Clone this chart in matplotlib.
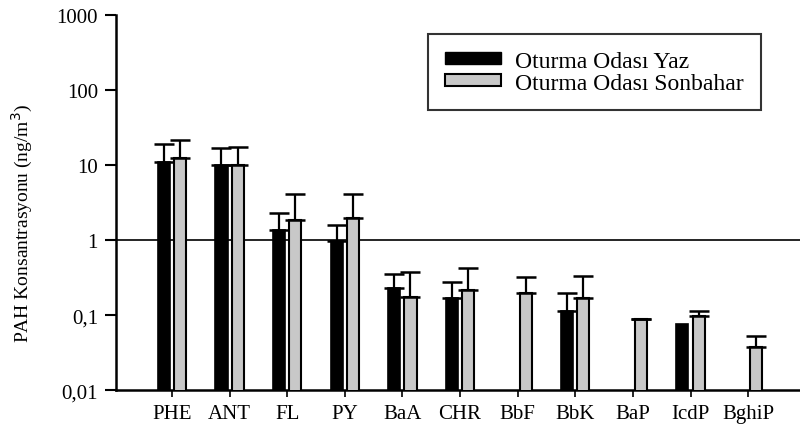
import numpy as np
import matplotlib
matplotlib.use("Agg")
import matplotlib.pyplot as plt
from matplotlib.patches import Patch

categories = ["PHE", "ANT", "FL", "PY", "BaA", "CHR", "BbF", "BbK", "BaP", "IcdP", "BghiP"]
yaz = [11.0, 10.0, 1.36, 0.98, 0.23, 0.17, np.nan, 0.113, np.nan, 0.076, np.nan]
yaz_err = [8.0, 7.0, 0.94, 0.62, 0.12, 0.11, np.nan, 0.083, np.nan, 0.0, np.nan]
sonbahar = [12.4, 10.0, 1.85, 2.0, 0.175, 0.215, 0.196, 0.17, 0.088, 0.097, 0.037]
sonbahar_err = [9.1, 7.4, 2.25, 2.1, 0.2, 0.205, 0.124, 0.16, 0.002, 0.016, 0.016]
series_names = ["Oturma Odası Yaz", "Oturma Odası Sonbahar"]
ytick_vals = [0.01, 0.1, 1, 10, 100, 1000]
ytick_labels = ["0,01", "0,1", "1", "10", "100", "1000"]

plt.rcParams['font.family'] = ['Liberation Serif', 'DejaVu Serif']

fig = plt.figure(figsize=(8, 4.35), dpi=100)
ax = fig.add_axes([0.145, 0.101, 0.855, 0.862])

x = np.arange(len(categories))
w = 0.21
off = 0.14
ax.bar(x - off, yaz, w, color="black", edgecolor="black", linewidth=1.2, zorder=3)
ax.bar(x + off, sonbahar, w, color="#c8c8c8", edgecolor="black", linewidth=1.5, zorder=3)

for xs, vals, errs in [(x - off, yaz, yaz_err), (x + off, sonbahar, sonbahar_err)]:
    v = np.array(vals); e = np.array(errs)
    m = ~np.isnan(v) & (e > 0)
    ax.errorbar(xs[m], v[m], yerr=[np.zeros(m.sum()), e[m]], fmt="none",
                ecolor="black", elinewidth=1.6, capsize=7, capthick=1.8, zorder=4)

ax.axhline(1, color="black", linewidth=1.2, zorder=2)

ax.set_yscale("log")
ax.set_ylim(0.01, 1000)
ax.set_xlim(-0.97, 10.9)
ax.set_yticks(ytick_vals)
ax.set_yticklabels(ytick_labels, fontsize=15)
ax.yaxis.set_minor_locator(matplotlib.ticker.NullLocator())
ax.set_xticks(x)
ax.set_xticklabels(categories, fontsize=15)
ax.tick_params(axis="y", length=8, width=1.5, pad=5)
ax.tick_params(axis="x", length=5, width=1.2, pad=5)

for s in ["top", "right"]:
    ax.spines[s].set_visible(False)
for s in ["left", "bottom"]:
    ax.spines[s].set_linewidth(1.8)

ax.set_ylabel("PAH Konsantrasyonu (ng/m$^3$)", fontsize=14)
ax.yaxis.set_label_coords(22 / 800, 1 - 223 / 435, transform=fig.transFigure)
ax.yaxis.label.set_verticalalignment("center")

handles = [Patch(facecolor="black", edgecolor="black"),
           Patch(facecolor="#c8c8c8", edgecolor="black", linewidth=1.5)]
leg = ax.legend(handles, series_names, loc="upper left",
                bbox_to_anchor=(428 / 800, 1 - 35 / 435), bbox_transform=fig.transFigure,
                fontsize=17, frameon=True,
                fancybox=False, edgecolor="black", handlelength=2.4,
                handleheight=0.4, borderpad=0.7, labelspacing=0.05,
                handletextpad=0.6, borderaxespad=0)
leg.get_frame().set_linewidth(1.5)

fig.savefig("out.png", dpi=100)
